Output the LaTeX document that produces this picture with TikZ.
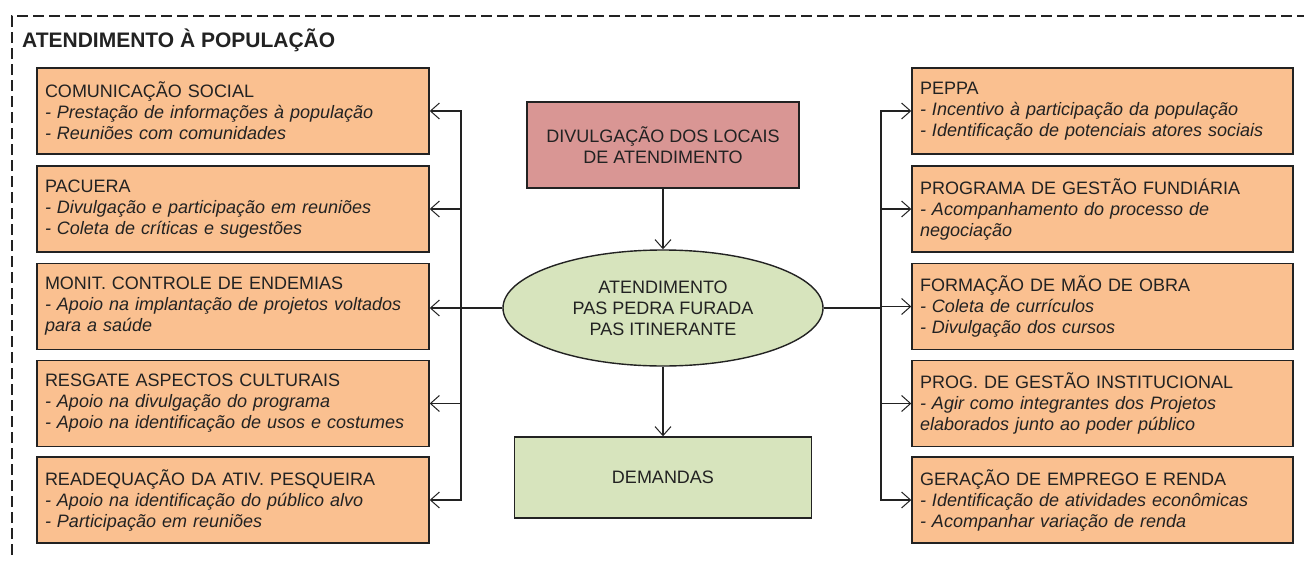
\documentclass[tikz,border=0pt]{standalone}
\usepackage{fontspec}
\setmainfont{Liberation Sans}
\usetikzlibrary{arrows.meta,shapes.geometric}
\definecolor{boxor}{HTML}{FAC090}
\definecolor{boxred}{HTML}{D99694}
\definecolor{boxgr}{HTML}{D7E4BD}
\definecolor{ink}{HTML}{222222}
\begin{document}
\begin{tikzpicture}[x=1pt,y=-1pt,
  every node/.style={text=ink},
  sidebox/.style={draw=ink,line width=1.4pt,fill=boxor,minimum width=392,minimum height=86,
     text width=376,inner xsep=8,inner ysep=0,align=left,font=\fontsize{18}{21}\selectfont},
  midbox/.style={draw=ink,line width=1.4pt,align=center,inner sep=0,font=\fontsize{18}{21}\selectfont},
  arr/.style={line width=1.3pt,draw=ink,-{Straight Barb[length=9pt,width=16pt,line width=1pt]}},
  frame/.style={draw=ink,line width=1.4pt,dash pattern=on 11pt off 5pt}]
\useasboundingbox (0,0) rectangle (1304,562);
\draw[frame] (12,555) -- (12,16) -- (1304,16);
\node[anchor=base west,inner sep=0,font=\bfseries\fontsize{21}{24}\selectfont] (title) at (22,47) {ATENDIMENTO À POPULAÇÃO};
% left boxes
\node[sidebox] (L1) at (233,111) {COMUNICAÇÃO SOCIAL\\\textit{- Prestação de informações à população}\\\textit{- Reuniões com comunidades}};
\node[sidebox] (L2) at (233,209) {PACUERA\\\textit{- Divulgação e participação em reuniões}\\\textit{- Coleta de críticas e sugestões}};
\node[sidebox] (L3) at (233,306.5) {MONIT. CONTROLE DE ENDEMIAS\\\textit{- Apoio na implantação de projetos voltados}\\\textit{para a saúde}};
\node[sidebox] (L4) at (233,403.5) {RESGATE ASPECTOS CULTURAIS\\\textit{- Apoio na divulgação do programa}\\\textit{- Apoio na identificação de usos e costumes}};
\node[sidebox] (L5) at (233,500) {READEQUAÇÃO DA ATIV. PESQUEIRA\\\textit{- Apoio na identificação do público alvo}\\\textit{- Participação em reuniões}};
% right boxes
\node[sidebox,minimum width=381,text width=365] (R1) at (1102.5,111) {PEPPA\\\textit{- Incentivo à participação da população}\\\textit{- Identificação de potenciais atores sociais}};
\node[sidebox,minimum width=381,text width=365] (R2) at (1102.5,209) {PROGRAMA DE GESTÃO FUNDIÁRIA\\\textit{- Acompanhamento do processo de}\\\textit{negociação}};
\node[sidebox,minimum width=381,text width=365] (R3) at (1102.5,306.5) {FORMAÇÃO DE MÃO DE OBRA\\\textit{- Coleta de currículos}\\\textit{- Divulgação dos cursos}};
\node[sidebox,minimum width=381,text width=365] (R4) at (1102.5,403.5) {PROG. DE GESTÃO INSTITUCIONAL\\\textit{- Agir como integrantes dos Projetos}\\\textit{elaborados junto ao poder público}};
\node[sidebox,minimum width=381,text width=365] (R5) at (1102.5,500) {GERAÇÃO DE EMPREGO E RENDA\\\textit{- Identificação de atividades econômicas}\\\textit{- Acompanhar variação de renda}};
% center
\node[midbox,fill=boxred,minimum width=272,minimum height=86] (div) at (663,145) {DIVULGAÇÃO DOS LOCAIS\\DE ATENDIMENTO};
\node[midbox,ellipse,fill=boxgr,minimum width=320,minimum height=116] (ell) at (663,308) {ATENDIMENTO\\PAS PEDRA FURADA\\PAS ITINERANTE};
\node[midbox,fill=boxgr,minimum width=297,minimum height=81] (dem) at (663,477.5) {DEMANDAS};
% connectors
\draw[arr] (div) -- (ell);
\draw[arr] (ell) -- (dem);
\coordinate (lbus) at (461,308);
\coordinate (rbus) at (881,308);
\draw[arr] (ell.west) -- (L3.east |- ell.west);
\foreach \b in {L1,L2,L4,L5}{\draw[arr] (ell.west) -- (lbus) |- (\b.east);}
\foreach \b in {R1,R2,R3,R4,R5}{\draw[arr] (ell.east) -- (rbus) |- (\b.west);}
\end{tikzpicture}
\end{document}
